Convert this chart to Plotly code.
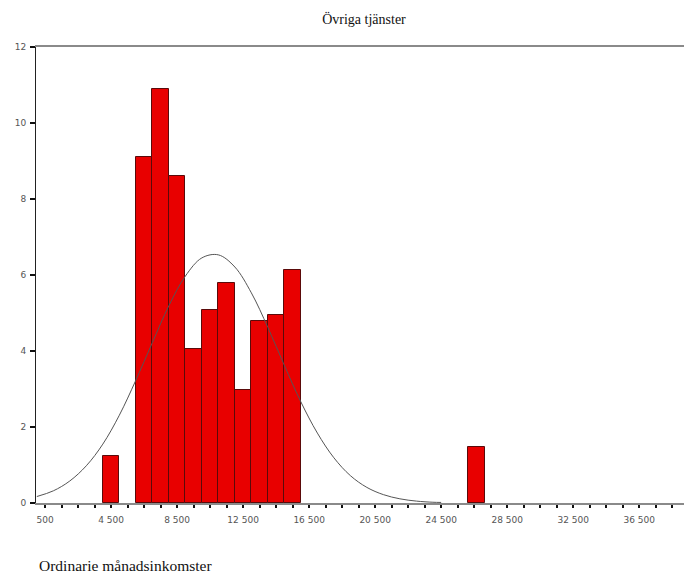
import plotly.graph_objects as go

# Histogram bins (centers, width 1000) and heights
bin_centers = [4500, 6500, 7500, 8500, 9500, 10500, 11500, 12500, 13500, 14500, 15500, 26650]
bin_heights = [1.24, 9.11, 10.89, 8.6, 4.04, 5.08, 5.8, 2.97, 4.78, 4.96, 6.13, 1.48]
bin_width = 1000

# Fitted normal curve
curve_x = [0, 1000, 2000, 3000, 4000, 5000, 6000, 7000, 8000, 9000, 10000, 11000,
           12000, 13000, 14000, 15000, 16000, 17000, 18000, 19000, 20000, 21000,
           22000, 23000, 24000, 24500]
curve_y = [0.17, 0.32, 0.58, 0.98, 1.55, 2.31, 3.23, 4.22, 5.19, 5.97, 6.45, 6.53,
           6.21, 5.53, 4.62, 3.62, 2.66, 1.84, 1.19, 0.72, 0.41, 0.22,
           0.11, 0.05, 0.02, 0.015]

# Axis ticks
x_tick_vals = list(range(500, 40000, 1000))
x_label_vals = [500, 4500, 8500, 12500, 16500, 20500, 24500, 28500, 32500, 36500]
x_label_text = ["500", "4 500", "8 500", "12 500", "16 500", "20 500", "24 500",
                "28 500", "32 500", "36 500"]
y_tick_vals = [0, 2, 4, 6, 8, 10, 12]

title_text = "Övriga tjänster"
xlabel_text = "Ordinarie månadsinkomster"

ticktext = [x_label_text[x_label_vals.index(v)] if v in x_label_vals else "" for v in x_tick_vals]

# page body has an 8px margin; figure is sized to fit the 692x575 window
W, H, OFF = 684, 567, 8
PL, PT, PB = 36 - OFF, 47 - OFF, 503 - OFF  # plot area edges in figure px
PW, PH = W - PL, PB - PT

fig = go.Figure()
fig.add_trace(go.Bar(
    x=bin_centers, y=bin_heights, width=bin_width,
    marker=dict(color="#E80000", line=dict(color="#5a0a0a", width=1)),
    showlegend=False, hoverinfo="skip",
))
fig.add_trace(go.Scatter(
    x=curve_x, y=curve_y, mode="lines", line=dict(color="#555555", width=1, shape="spline"),
    showlegend=False, hoverinfo="skip",
))

fig.update_layout(
    width=W, height=H,
    margin=dict(l=PL, r=0, t=PT, b=H - PB),
    paper_bgcolor="white", plot_bgcolor="white",
    bargap=0,
    title=dict(text=title_text, x=(364 - OFF) / W, xref="container", xanchor="center",
               y=1 - (19 - OFF) / H, yref="container", yanchor="middle",
               font=dict(family="Liberation Serif", size=14, color="#111111")),
    annotations=[dict(text=xlabel_text, xref="paper", yref="paper",
                      x=(37 - 36) / PW, y=-(565 - 503) / PH,
                      xanchor="left", yanchor="middle", showarrow=False,
                      font=dict(family="Liberation Serif", size=15.5, color="#111111"))],
)

fig.update_xaxes(
    range=[-50, 39700], showgrid=False, zeroline=False,
    showline=True, linecolor="#8a8a8a", linewidth=2, mirror=True,
    tickmode="array", tickvals=x_tick_vals, ticktext=ticktext,
    ticks="outside", ticklen=3, tickwidth=2, tickcolor="#111111",
    ticklabelstandoff=4,
    tickfont=dict(family="DejaVu Sans", size=9, color="#555555"),
)
fig.update_yaxes(
    range=[0, 12], showgrid=False, zeroline=False,
    showline=True, linecolor="#222222", linewidth=1,
    tickmode="array", tickvals=y_tick_vals,
    ticks="outside", ticklen=5, tickwidth=2, tickcolor="#111111",
    ticklabelstandoff=2,
    tickfont=dict(family="DejaVu Sans", size=9, color="#555555"),
)

fig.write_html("out.html")
